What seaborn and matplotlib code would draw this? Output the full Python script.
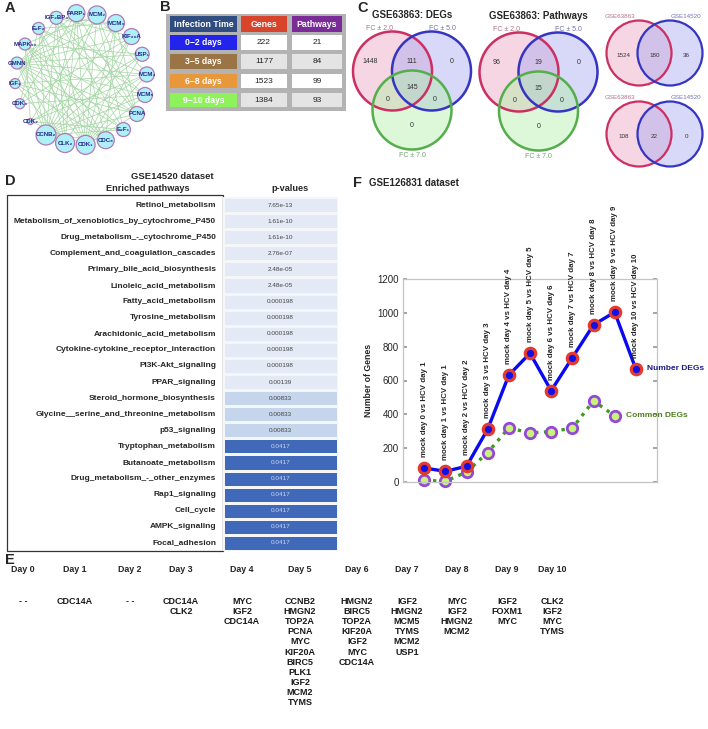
import matplotlib.pyplot as plt
import numpy as np
import pandas as pd
import seaborn as sns
from matplotlib.colors import ListedColormap
from matplotlib.patches import Circle, Rectangle

W, H = 708, 729

# A: gene interaction network (clockwise from top)
network_genes = ["PARP1", "MCM2", "MCM3", "KIF20A", "USP1", "MCM4", "MCM5", "PCNA",
                 "E2F1", "CDC6", "CDK1", "CLK2", "CCNB2", "CDK2", "CDK4", "IGF2",
                 "GMNN", "MAPK13", "E2F2", "IGF2BP3"]
node_radius = [8.5, 9, 8.5, 8, 7, 7.5, 7.5, 7.5, 7, 8.5, 9.5, 9.5, 10, 3, 5, 5, 6, 6, 6, 6.5]
network_edges = [(0, 7), (0, 10), (0, 12), (0, 16), (0, 9), (1, 7), (1, 10), (1, 12),
                 (1, 16), (1, 5), (1, 8), (1, 13), (2, 7), (2, 10), (2, 12), (2, 16),
                 (2, 9), (2, 18), (3, 10), (3, 12), (3, 16), (3, 11), (3, 14), (4, 10),
                 (4, 12), (4, 16), (4, 17), (5, 10), (5, 12), (5, 16), (5, 18), (5, 13),
                 (6, 10), (6, 12), (6, 16), (6, 19), (6, 14), (7, 10), (7, 12), (7, 16),
                 (7, 17), (7, 15), (7, 19), (8, 12), (8, 16), (8, 17), (8, 19), (8, 13),
                 (9, 12), (9, 16), (9, 18), (9, 15), (10, 16), (10, 17), (10, 19),
                 (10, 18), (10, 13), (11, 16), (11, 18), (11, 19), (12, 16), (12, 17),
                 (12, 19), (12, 18), (13, 17), (14, 18), (15, 19), (0, 14), (3, 19),
                 (1, 17), (2, 19), (4, 13), (5, 15), (6, 18), (9, 17), (11, 15), (0, 11)]

# B: infection time summary
infection_times = ["0\u22122 days", "3\u22125 days", "6\u22128 days", "9\u221210 days"]
gene_counts = [222, 1177, 1523, 1384]
pathway_counts = [21, 84, 99, 93]

# C: Venn region counts (A, AB, B, ABC, AC, BC, C)
deg_regions = [1448, 111, 0, 145, 0, 0, 0]
pathway_regions = [96, 19, 0, 15, 0, 0, 0]
fc_labels = ["FC \u00b1 2.0", "FC \u00b1 5.0", "FC \u00b1 7.0"]
cross_degs = [1524, 180, 36]
cross_pathways = [108, 22, 0]
cross_labels = ["GSE63863", "GSE14520"]

# D: enriched pathways, GSE14520
pathways = ["Retinol_metabolism", "Metabolism_of_xenobiotics_by_cytochrome_P450",
            "Drug_metabolism_-_cytochrome_P450", "Complement_and_coagulation_cascades",
            "Primary_bile_acid_biosynthesis", "Linoleic_acid_metabolism",
            "Fatty_acid_metabolism", "Tyrosine_metabolism", "Arachidonic_acid_metabolism",
            "Cytokine-cytokine_receptor_interaction", "PI3K-Akt_signaling",
            "PPAR_signaling", "Steroid_hormone_biosynthesis",
            "Glycine__serine_and_threonine_metabolism", "p53_signaling",
            "Tryptophan_metabolism", "Butanoate_metabolism",
            "Drug_metabolism_-_other_enzymes", "Rap1_signaling", "Cell_cycle",
            "AMPK_signaling", "Focal_adhesion"]
pvalues = [7.65e-13, 1.61e-10, 1.61e-10, 2.76e-07, 2.48e-05, 2.48e-05, 0.000198,
           0.000198, 0.000198, 0.000198, 0.000198, 0.00139, 0.00833, 0.00833, 0.00833,
           0.0417, 0.0417, 0.0417, 0.0417, 0.0417, 0.0417, 0.0417]

# E: common genes per day
days = ["Day 0", "Day 1", "Day 2", "Day 3", "Day 4", "Day 5", "Day 6", "Day 7",
        "Day 8", "Day 9", "Day 10"]
day_genes = [["- -"], ["CDC14A"], ["- -"], ["CDC14A", "CLK2"], ["MYC", "IGF2", "CDC14A"],
             ["CCNB2", "HMGN2", "TOP2A", "PCNA", "MYC", "KIF20A", "BIRC5", "PLK1",
              "IGF2", "MCM2", "TYMS"],
             ["HMGN2", "BIRC5", "TOP2A", "KIF20A", "IGF2", "MYC", "CDC14A"],
             ["IGF2", "HMGN2", "MCM5", "TYMS", "MCM2", "USP1"],
             ["MYC", "IGF2", "HMGN2", "MCM2"], ["IGF2", "FOXM1", "MYC"],
             ["CLK2", "IGF2", "MYC", "TYMS"]]

# F: GSE126831 DEG counts
comparisons = ["mock day 0 vs HCV day 1", "mock day 1 vs HCV day 1",
               "mock day 2 vs HCV day 2", "mock day 3 vs HCV day 3",
               "mock day 4 vs HCV day 4", "mock day 5 vs HCV day 5",
               "mock day 6 vs HCV day 6", "mock day 7 vs HCV day 7",
               "mock day 8 vs HCV day 8", "mock day 9 vs HCV day 9",
               "mock day 10 vs HCV day 10"]
number_degs = [83, 63, 93, 312, 632, 761, 540, 735, 929, 1004, 668]
common_degs = [10, 4, 59, 174, 320, 290, 298, 318, 480, 391]

sns.set_theme(style="white")
plt.rcParams["font.family"] = ["Liberation Sans", "DejaVu Sans"]

fig = plt.figure(figsize=(W / 100, H / 100), dpi=100)


def px(x0, y0, x1, y1):
    return [x0 / W, 1 - y1 / H, (x1 - x0) / W, (y1 - y0) / H]


canvas = fig.add_axes([0, 0, 1, 1])
canvas.set_xlim(0, W)
canvas.set_ylim(H, 0)
canvas.axis("off")

for lab, (x, y) in zip("ABCDEF", [(5, 8), (160, 7), (357, 8), (5, 181), (5, 560), (353, 183)]):
    canvas.text(x, y, lab, fontsize=10.5, fontweight="bold", ha="left", va="center")

# ---- A: network
sub = str.maketrans("0123456789", "\u2080\u2081\u2082\u2083\u2084\u2085\u2086\u2087\u2088\u2089")
ang = np.deg2rad(94 - 18 * np.arange(len(network_genes)))
nx = 81 + 66 * np.cos(ang)
ny = 79 - 66 * np.sin(ang)
for a, b in network_edges:
    canvas.plot([nx[a], nx[b]], [ny[a], ny[b]], color="#a3d6a3", lw=0.5, zorder=1)
for g, x, y, r in zip(network_genes, nx, ny, node_radius):
    canvas.add_patch(Circle((x, y), r, fc="#aef0f7", ec="#b07ab6", lw=0.9, zorder=2))
    canvas.text(x, y, g.translate(sub), fontsize=4.4, fontweight="bold", color="#26268a",
                ha="center", va="center", zorder=3)

# ---- B: table
canvas.add_patch(Rectangle((166, 14), 180, 97, fc="#b3b3b3", ec="none"))
col_x = [(170, 237), (241, 287), (292, 342)]
head_colors = ["#2f4d80", "#d8442b", "#7b2b97"]
row_colors = ["#2323ee", "#9b7446", "#e8973b", "#8ef25c"]
for (x0, x1), txt, c in zip(col_x, ["Infection Time", "Genes", "Pathways"], head_colors):
    canvas.add_patch(Rectangle((x0, 16), x1 - x0, 16, fc=c, ec="none"))
    canvas.text((x0 + x1) / 2, 24, txt, color="white", fontsize=6.3, fontweight="bold",
                ha="center", va="center")
for i, (lab, g, p) in enumerate(zip(infection_times, gene_counts, pathway_counts)):
    y0 = 35 + 19.3 * i
    cell = "white" if i % 2 == 0 else "#e4e4e4"
    for (x0, x1), txt, c in zip(col_x, [lab, str(g), str(p)], [row_colors[i], cell, cell]):
        canvas.add_patch(Rectangle((x0, y0), x1 - x0, 14.5, fc=c, ec="none"))
        bold = (x0 == 170)
        canvas.text((x0 + x1) / 2, y0 + 7.5, txt, fontsize=6.2 if bold else 6,
                    color="white" if bold else "#222222",
                    fontweight="bold" if bold else "normal", ha="center", va="center")

# ---- C: Venn diagrams
venn_fill = ["#e9a4bf", "#a9a9f0", "#b2f0aa"]
venn_edge = ["#cc2f62", "#3535c2", "#55ae4c"]
venn_text = ["#b0708a", "#7272b0", "#70a070"]


def venn3(cx, cy, counts, title):
    centers = [(cx - 19.5, cy), (cx + 19.5, cy), (cx, cy + 39)]
    for (x, y), f in zip(centers, venn_fill):
        canvas.add_patch(Circle((x, y), 39.5, fc=f, ec="none", alpha=0.45))
    for (x, y), e in zip(centers, venn_edge):
        canvas.add_patch(Circle((x, y), 39.5, fc="none", ec=e, lw=1.8))
    offs = [(-42, -10), (0, -10), (40, -10), (0, 16), (-24, 28), (23, 28), (0, 54)]
    for (dx, dy), n in zip(offs, counts):
        canvas.text(cx + dx, cy + dy, str(n), fontsize=5, color="#333333",
                    ha="center", va="center")
    for (dx, dy), t, c in zip([(-32, -43), (30, -43), (0, 84)], fc_labels, venn_text):
        canvas.text(cx + dx, cy + dy, t, fontsize=5, color=c, ha="center", va="center")
    canvas.text(cx, cy - 56, title, fontsize=7, fontweight="bold", ha="center", va="center")


def venn2(cx, cy, counts):
    for x, f in zip([cx - 15.5, cx + 15.5], venn_fill):
        canvas.add_patch(Circle((x, cy), 32.5, fc=f, ec="none", alpha=0.45))
    for x, e in zip([cx - 15.5, cx + 15.5], venn_edge):
        canvas.add_patch(Circle((x, cy), 32.5, fc="none", ec=e, lw=1.6))
    for dx, n in zip([-31, 0, 32], counts):
        canvas.text(cx + dx, cy + 2, str(n), fontsize=4.5, color="#333333",
                    ha="center", va="center")
    for dx, t, c in zip([-35, 31], cross_labels, venn_text):
        canvas.text(cx + dx, cy - 37, t, fontsize=4.5, color=c, ha="center", va="center")


venn3(412, 71, deg_regions, "GSE63863: DEGs")
venn3(538.5, 72, pathway_regions, "GSE63863: Pathways")
venn2(654.5, 53, cross_degs)
venn2(654.5, 134, cross_pathways)

# ---- D: pathway table with p-values
canvas.text(172, 176, "GSE14520 dataset", fontsize=6.8, fontweight="bold", ha="center", va="center")
canvas.text(148, 188, "Enriched pathways", fontsize=6.6, fontweight="bold", ha="center", va="center")
canvas.text(290, 188, "p-values", fontsize=6.6, fontweight="bold", ha="center", va="center")
canvas.add_patch(Rectangle((7, 195), 216, 356, fc="white", ec="#333333", lw=0.9))

levels = np.digitize(pvalues, [0.005, 0.02])
level_df = pd.DataFrame({"p": levels}, index=pathways)
annot = np.array([[f"{p:.3g}"] for p in pvalues])
axd = fig.add_axes(px(223, 197, 338, 551))
sns.heatmap(level_df, ax=axd, cmap=ListedColormap(["#e3eaf5", "#c5d5eb", "#4169b9"]),
            vmin=-0.5, vmax=2.5, cbar=False, annot=annot, fmt="",
            annot_kws={"fontsize": 4.6}, linewidths=1, linecolor="#f4f6fa")
for t, lv in zip(axd.texts, levels):
    t.set_color("#c9d6ef" if lv == 2 else "#444444")
axd.set_xticks([])
axd.set_xlabel("")
axd.set_ylabel("")
axd.set_yticks(np.arange(len(pathways)) + 0.5)
axd.set_yticklabels(pathways, rotation=0, fontsize=6, fontweight="bold")
axd.tick_params(axis="y", length=0, pad=5)

# ---- E: common genes per day
day_x = [23, 75, 130, 181, 242, 300, 357, 407, 457, 507, 552]
for x, d, genes in zip(day_x, days, day_genes):
    canvas.text(x, 569, d, fontsize=6.4, fontweight="bold", ha="center", va="center")
    canvas.text(x, 597, "\n".join(genes), fontsize=6.5, fontweight="bold", ha="center",
                va="top", linespacing=1.16, color="#1a1a1a")

# ---- F: line chart
canvas.text(414, 183, "GSE126831 dataset", fontsize=7, fontweight="bold", ha="center", va="center")
axf = fig.add_axes(px(403, 279, 657, 482))
deg_df = pd.DataFrame({"pos": np.arange(1, len(number_degs) + 1), "n": number_degs})
com_df = pd.DataFrame({"pos": np.arange(1, len(common_degs) + 1), "n": common_degs})
sns.lineplot(data=com_df, x="pos", y="n", ax=axf, color="#3f9a1e", lw=2.4, linestyle=":",
             marker="o", markersize=7.5, markerfacecolor="#c9f27a",
             markeredgecolor="#9448d6", markeredgewidth=2)
sns.lineplot(data=deg_df, x="pos", y="n", ax=axf, color="#0a0af0", lw=2.4,
             marker="o", markersize=7.5, markerfacecolor="#1010e8",
             markeredgecolor="#e4392c", markeredgewidth=2.3)
for ln in axf.lines:
    ln.set_clip_on(False)
for p, n, lab in zip(deg_df["pos"], number_degs, comparisons):
    axf.annotate(lab, (p, n), xytext=(0, 8), textcoords="offset points", rotation=90,
                 ha="center", va="bottom", fontsize=5.7, fontweight="bold",
                 annotation_clip=False)
axf.annotate("Number DEGs", (deg_df["pos"].iloc[-1], number_degs[-1]), xytext=(8, 0),
             textcoords="offset points", ha="left", va="center", fontsize=6,
             fontweight="bold", color="#1c1c8a", annotation_clip=False)
axf.annotate("Common DEGs", (com_df["pos"].iloc[-1], common_degs[-1]), xytext=(8, 0),
             textcoords="offset points", ha="left", va="center", fontsize=6,
             fontweight="bold", color="#4f7f1f", annotation_clip=False)
axf.set_xlim(0, 12)
axf.set_ylim(0, 1200)
axf.set_xticks([])
axf.set_yticks(range(0, 1201, 200))
axf.tick_params(axis="y", direction="in", length=3, right=True, left=True,
                labelsize=7, pad=3, color="#999999")
axf.set_xlabel("")
axf.set_ylabel("Number of Genes", fontsize=6.3, fontweight="bold", labelpad=3)
for s in axf.spines.values():
    s.set_color("#c4c4c4")
    s.set_linewidth(0.9)

fig.savefig("out.png", dpi=100)
